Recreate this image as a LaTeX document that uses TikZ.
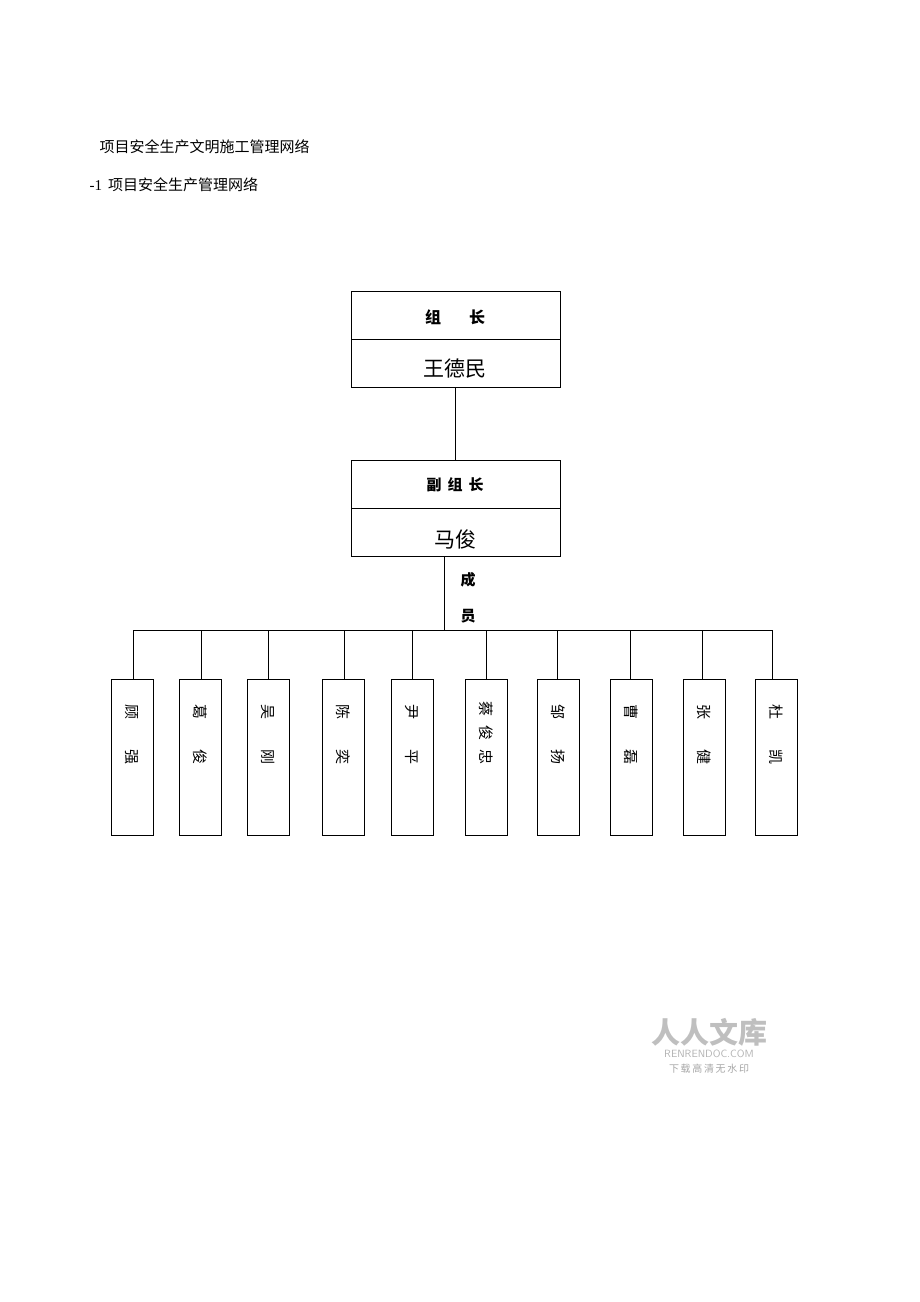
\documentclass[tikz,border=0pt]{standalone}
\usepackage{fontspec}
\setmainfont{Liberation Serif}
\newfontfamily\cjk{Noto Sans CJK SC}
\newfontfamily\cjkb{Noto Sans CJK SC}[BoldFont={Noto Sans CJK SC Bold}]
\begin{document}
\begin{tikzpicture}[x=1pt,y=-1pt,
  box/.style={draw,thick,line width=0.9pt},
  mem/.style={draw,line width=0.9pt,minimum width=42pt,minimum height=156pt,anchor=north},
  ch/.style={font=\cjk\fontsize{15}{15}\selectfont,rotate=-90,inner sep=0pt},
  ln/.style={line width=0.7pt}]
\useasboundingbox (0,0) rectangle (920,1302);
\node[anchor=west,font=\cjk\fontsize{15}{15}\selectfont] (t1) at (96,147) {项目安全生产文明施工管理网络};
\node[anchor=west,font=\fontsize{15}{15}\selectfont] (t2) at (86,185) {-1\hspace{6pt}{\cjk 项目安全生产管理网络}};
% top box
\draw[box] (351,291) rectangle (560,387);
\draw[ln] (351,339) -- (560,339);
\coordinate (b1) at (455,387);
\node[font=\cjk\bfseries\fontsize{16}{16}\selectfont] (zz) at (455,317) {组\hspace{28pt}长};
\node[font=\cjk\fontsize{21}{21}\selectfont] (w) at (455,369) {王德民};
% second box
\draw[box] (351,460) rectangle (560,556);
\draw[ln] (351,508) -- (560,508);
\coordinate (b2t) at (455,460);
\node[font=\cjk\bfseries\fontsize{15}{15}\selectfont] (fz) at (455,485) {副\hspace{6pt}组\hspace{6pt}长};
\node[font=\cjk\fontsize{21}{21}\selectfont] (m) at (455,539) {马俊};
\draw[ln] (b1) -- (b2t);
\coordinate (b2b) at (444,556);
\coordinate (bus) at (444,630);
\draw[ln] (b2b) -- (bus);
\node[font=\cjk\bfseries\fontsize{15}{15}\selectfont] (c1) at (468,580) {成};
\node[font=\cjk\bfseries\fontsize{15}{15}\selectfont] (c2) at (468,616) {员};
\coordinate (busL) at (133,630);
\coordinate (busR) at (772,630);
\draw[ln] (busL) -- (busR);
\foreach \i/\cx/\dx/\a/\b/\c in {1/132/133/顾/强/,2/200/201/葛/俊/,3/268/268/吴/刚/,4/343/344/陈/奕/,5/412/412/尹/平/,6/486/486/蔡/俊/忠,7/558/557/邹/扬/,8/631/630/曹/磊/,9/704/702/张/健/,10/776/772/杜/凯/}{
  \node[mem] (m\i) at (\cx,679) {};
  \coordinate (d\i) at (\dx,630);
  \draw[ln] (d\i) -- (\dx,679);
  \ifx\c\empty
    \node[ch] (m\i a) at (\cx,712) {\a};
    \node[ch] (m\i b) at (\cx,757) {\b};
  \else
    \node[ch] (m\i a) at (\cx,709) {\a};
    \node[ch] (m\i b) at (\cx,733) {\b};
    \node[ch] (m\i c) at (\cx,757) {\c};
  \fi
}
% watermark
\node[text=black!25,font=\cjk\bfseries\fontsize{29}{29}\selectfont] (wm1) at (709,1032) {人人文库};
\node[text=black!30,font=\sffamily\fontsize{10.5}{10.5}\selectfont] (wm2) at (709,1054) {RENRENDOC.COM};
\node[text=black!35,font=\cjk\fontsize{10}{10}\selectfont] (wm3) at (709,1069) {下\,载\,高\,清\,无\,水\,印};
\end{tikzpicture}
\end{document}
